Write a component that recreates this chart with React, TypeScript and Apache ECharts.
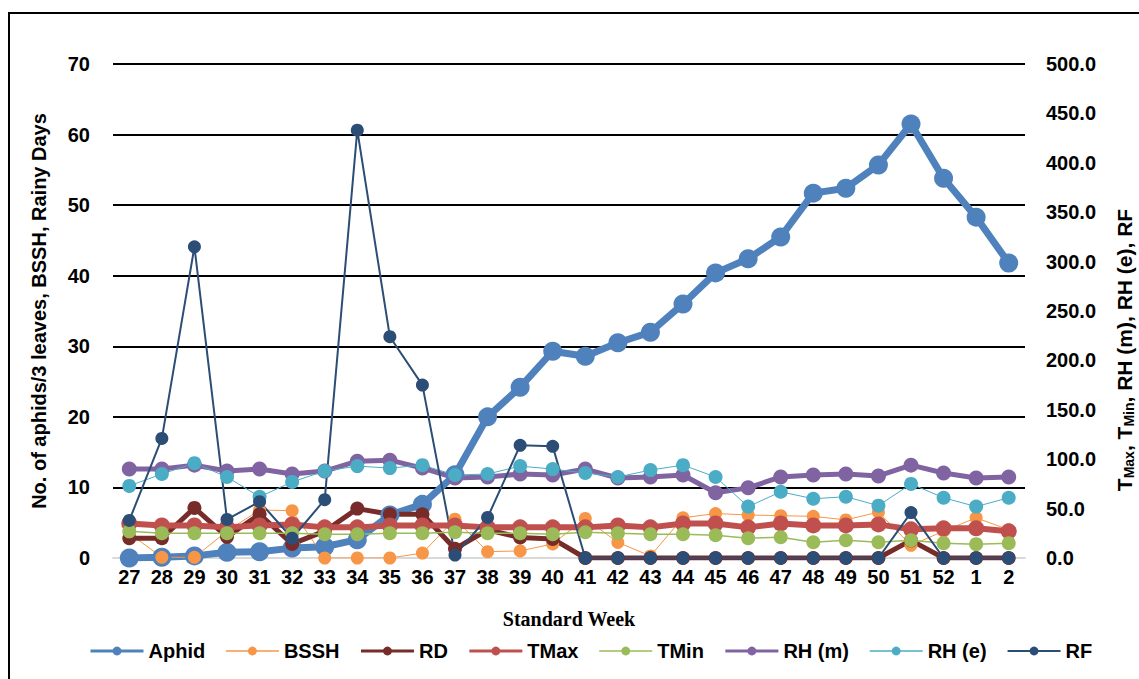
import React, { useEffect, useRef } from "react";
import * as echarts from "echarts";

const weeks = ["27","28","29","30","31","32","33","34","35","36","37","38","39","40","41","42","43","44","45","46","47","48","49","50","51","52","1","2"];
const aphid = [0, 0.1, 0.3, 0.8, 0.9, 1.4, 1.6, 2.6, 6.1, 7.6, 11.8, 20.0, 24.2, 29.3, 28.6, 30.5, 32.0, 36.0, 40.4, 42.4, 45.5, 51.7, 52.4, 55.7, 61.5, 53.8, 48.3, 41.8];
const bssh = [3.5, 0.1, 0.1, 3.8, 6.8, 6.7, 0, 0, 0, 0.7, 5.5, 0.9, 1.0, 2.0, 5.6, 2.2, 0.3, 5.7, 6.3, 6.1, 6.0, 5.9, 5.4, 6.5, 1.8, 3.8, 5.7, 4.0];
const rd = [2.8, 2.8, 7.1, 3.0, 6.2, 2.0, 3.8, 7.0, 6.2, 6.2, 1.3, 4.0, 2.9, 2.7, 0, 0, 0, 0, 0, 0, 0, 0, 0, 0, 2.5, 0, 0, 0];
const tmax = [35, 33, 33, 31, 33, 34, 31, 31, 33, 33, 33, 31, 31, 31, 31, 33, 31, 35, 35, 31, 35, 33, 33, 34, 29, 30, 30, 27];
const tmin = [27, 25, 25, 25, 25, 25, 24, 24, 25, 25, 26, 25, 25, 24, 26, 25, 24, 24, 23, 20, 21, 16, 18, 16, 18, 15, 14, 15];
const rhm = [90, 90, 94, 88, 90, 85, 88, 98, 99, 91, 81, 82, 85, 84, 90, 81, 82, 84, 66, 71, 82, 84, 85, 83, 94, 86, 81, 82];
const rhe = [73, 85, 96, 82, 62, 77, 88, 93, 91, 94, 84, 85, 93, 90, 86, 82, 89, 94, 82, 52, 67, 60, 62, 53, 75, 61, 52, 61];
const rf = [38, 121, 315, 39, 57, 20, 59, 433, 224, 175, 3, 41, 114, 113, 0, 0, 0, 0, 0, 0, 0, 0, 0, 0, 46, 0, 0, 0];

const leftTicks = [0, 70, 10];
const rightTicks = [0, 500, 50];

const FONT = "Liberation Sans, Arial, sans-serif";

const seriesDefs = [
  { name: "Aphid", data: aphid, color: "#4F81BD", width: 7, size: 19, axis: 0, legendWidth: 3 },
  { name: "BSSH", data: bssh, color: "#F79646", width: 1, size: 13, axis: 0, legendWidth: 1.5 },
  { name: "RD", data: rd, color: "#772C2A", width: 5, size: 14, axis: 0, legendWidth: 3 },
  { name: "TMax", data: tmax, color: "#C0504D", width: 6, size: 16, axis: 1, legendWidth: 3 },
  { name: "TMin", data: tmin, color: "#9BBB59", width: 1.5, size: 14, axis: 1, legendWidth: 1.5 },
  { name: "RH (m)", data: rhm, color: "#8064A2", width: 5, size: 15, axis: 1, legendWidth: 3 },
  { name: "RH (e)", data: rhe, color: "#4BACC6", width: 1, size: 14, axis: 1, legendWidth: 1.5 },
  { name: "RF", data: rf, color: "#2C4D75", width: 2, size: 13, axis: 1, legendWidth: 2 },
];

export default function App() {
  const ref = useRef<HTMLDivElement>(null);
  useEffect(() => {
    document.body.style.margin = "0";
    const chart = echarts.init(ref.current!, null, { renderer: "svg" });
    chart.setOption({
      animation: false,
      backgroundColor: "#ffffff",
      grid: { left: 113, right: 114, top: 64, bottom: 121, containLabel: false },
      legend: {
        top: 636,
        left: 84,
        itemWidth: 53,
        itemHeight: 11,
        itemGap: 20,
        textStyle: { fontFamily: FONT, fontWeight: "bold", fontSize: 20, color: "#000" },
        data: seriesDefs.map((s) => ({
          name: s.name,
          lineStyle: { width: s.legendWidth, color: s.color },
        })),
      },
      xAxis: {
        type: "category",
        data: weeks,
        boundaryGap: true,
        axisLine: { lineStyle: { color: "#d9d9d9", width: 2 } },
        axisTick: { show: false },
        axisLabel: { fontFamily: FONT, fontWeight: "bold", fontSize: 20, color: "#000", margin: 9, interval: 0 },
        name: "Standard Week",
        nameLocation: "middle",
        nameGap: 51,
        nameTextStyle: { fontFamily: "Liberation Serif, Times New Roman, serif", fontWeight: "bold", fontSize: 20, color: "#000" },
      },
      yAxis: [
        {
          type: "value",
          min: leftTicks[0],
          max: leftTicks[1],
          interval: leftTicks[2],
          axisLine: { show: false },
          axisTick: { show: false },
          splitLine: { lineStyle: { color: "#000", width: 2 } },
          axisLabel: { fontFamily: FONT, fontWeight: "bold", fontSize: 20, color: "#000", margin: 23 },
          name: "No. of aphids/3 leaves, BSSH, Rainy Days",
          nameLocation: "middle",
          nameGap: 64,
          nameTextStyle: { fontFamily: FONT, fontWeight: "bold", fontSize: 20, color: "#000" },
        },
        {
          type: "value",
          min: rightTicks[0],
          max: rightTicks[1],
          interval: rightTicks[2],
          position: "right",
          axisLine: { show: false },
          axisTick: { show: false },
          splitLine: { show: false },
          axisLabel: {
            fontFamily: FONT, fontWeight: "bold", fontSize: 20, color: "#000", margin: 21,
            formatter: (v: number) => v.toFixed(1),
          },
        },
      ],
      graphic: [
        {
          type: "rect",
          shape: { x: 9, y: 13, width: 1160, height: 700 },
          style: { fill: "none", stroke: "#000", lineWidth: 2 },
          silent: true,
        },
        {
          type: "text",
          x: 1124,
          y: 350,
          rotation: Math.PI / 2,
          style: {
            text: "T{s|Max}, T{s|Min}, RH (m), RH (e), RF",
            align: "center",
            verticalAlign: "middle",
            fontFamily: FONT,
            fontWeight: "bold",
            fontSize: 21,
            fill: "#000",
            rich: {
              s: { fontFamily: FONT, fontWeight: "bold", fontSize: 14, fill: "#000", verticalAlign: "bottom", padding: [9, 0, 0, 0] },
            },
          },
        },
      ],
      series: seriesDefs.map((s) => ({
        name: s.name,
        type: "line",
        data: s.data,
        yAxisIndex: s.axis,
        symbol: "circle",
        symbolSize: s.size,
        lineStyle: { color: s.color, width: s.width },
        itemStyle: { color: s.color },
        emphasis: { disabled: true },
      })),
    });
    return () => chart.dispose();
  }, []);
  return <div ref={ref} style={{ width: 1139, height: 679 }} />;
}
